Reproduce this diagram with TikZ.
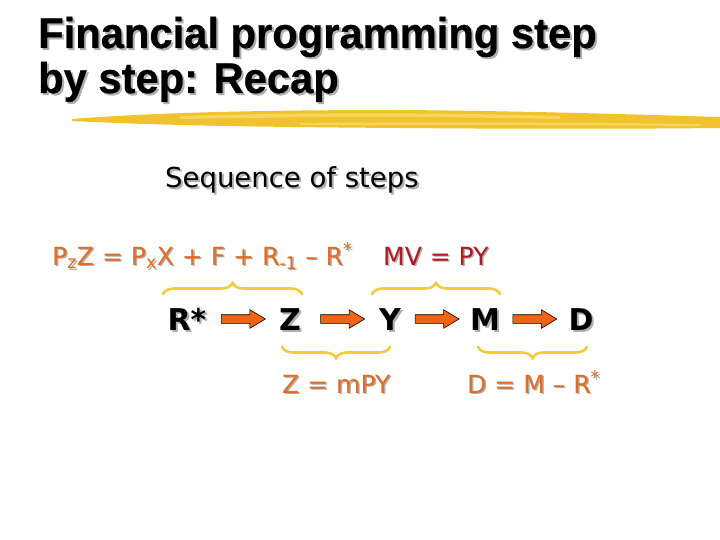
\documentclass[tikz,border=0pt]{standalone}
\usepackage{fontspec}
\setmainfont{DejaVu Sans}
\newfontfamily\titlefont[FakeStretch=0.97,BoldFont={Liberation Sans Bold},BoldFeatures={FakeBold=0.6}]{Liberation Sans}
\usetikzlibrary{calc,shapes.arrows,decorations.pathreplacing}
\definecolor{eqorange}{RGB}{226,108,36}
\definecolor{eqred}{RGB}{178,24,30}
\definecolor{arrorange}{RGB}{240,100,18}
\definecolor{braceyellow}{RGB}{240,204,64}
\definecolor{brush}{RGB}{240,194,46}
\definecolor{brushlight}{RGB}{248,214,92}
\definecolor{shadowgray}{RGB}{175,175,175}
\tikzset{
  titletext/.style={font=\titlefont\bfseries\fontsize{43}{43}\selectfont, anchor=base west, inner sep=0pt},
  subtitle/.style={font=\fontsize{27.5}{27.5}\selectfont, anchor=base west, inner sep=0pt},
  eqtext/.style={font=\fontsize{25}{25}\selectfont, anchor=base west, inner sep=0pt, text=eqorange},
  rowtext/.style={font=\bfseries\fontsize{30}{30}\selectfont, anchor=base, inner sep=0pt, text height=22pt, text depth=0pt},
  shadowed/.style={text=shadowgray},
  flowarrow/.style={single arrow, draw=black, line width=0.6pt, fill=arrorange,
    minimum height=44pt, minimum width=18pt, inner sep=4pt,
    single arrow head extend=5pt, single arrow tip angle=62},
  bracedeco/.style={draw=braceyellow, line width=2.6pt, line cap=round,
    decorate, decoration={brace, amplitude=11pt, raise=0pt}},
}
\begin{document}
\begin{tikzpicture}[x=1pt,y=-1pt]
\useasboundingbox (0,0) rectangle (720,540);
\fill[white] (0,0) rectangle (720,540);

% title with shadow
\node[titletext,shadowed] at (40,50) {Financial programming step};
\node[titletext] (t1) at (38,48) {Financial programming step};
\node[titletext,shadowed] at (40,95) {by step: Recap};
\node[titletext] (t2) at (38,93) {by step: Recap};

% brush stroke
\fill[brush] (72,119) .. controls (150,113) and (250,110) .. (400,110)
  .. controls (520,111) and (620,114) .. (720,117)
  -- (720,128) .. controls (620,129) and (520,129) .. (400,128)
  .. controls (250,127) and (150,125) .. (72,121) -- cycle;
\fill[brushlight] (180,116) .. controls (280,113) and (420,112) .. (560,116)
  -- (560,119) .. controls (420,116) and (280,117) .. (180,119) -- cycle;
\fill[brushlight] (300,123) .. controls (420,122) and (560,122) .. (700,124)
  -- (700,126) .. controls (560,125) and (420,125) .. (300,125) -- cycle;

% subtitle
\node[subtitle,shadowed] at (167,190) {Sequence of steps};
\node[subtitle] (seq) at (165,188) {Sequence of steps};

% equations top
\node[eqtext,shadowed] at (53.5,266.5) {P\textsubscript{z}Z = P\textsubscript{x}X + F + R\textsubscript{-1} – R\textsuperscript{*}};
\node[eqtext] (eq1) at (52,265) {P\textsubscript{z}Z = P\textsubscript{x}X + F + R\textsubscript{-1} – R\textsuperscript{*}};
\node[eqtext,shadowed] at (384.5,266.5) {MV = PY};
\node[eqtext,text=eqred] (eq2) at (383,265) {MV = PY};

% row
\foreach \n/\x/\t in {rs/187/R*, z/290/Z, y/390/Y, m/485/M, d/581/D} {
  \node[rowtext,shadowed] at (\x+2,332) {\t};
  \node[rowtext] (\n) at (\x,330) {\t};
}
\node[flowarrow] (a1) at ($(rs.east)!0.5!(z.west)+(-3,0)$) {};
\node[flowarrow] (a2) at ($(z.east)!0.5!(y.west)+(-1,0)$) {};
\node[flowarrow] (a3) at ($(y.east)!0.5!(m.west)+(-2,0)$) {};
\node[flowarrow] (a4) at ($(m.east)!0.5!(d.west)+(-3,0)$) {};

% braces
\draw[bracedeco] (163,294) -- (302,294);
\draw[bracedeco] (372,294) -- (500,294);
\draw[bracedeco] (390,347) -- (282,347);
\draw[bracedeco] (587,347) -- (478,347);

% bottom formulas
\node[eqtext,shadowed] at (283.5,394.5) {Z = mPY};
\node[eqtext] (eq3) at (282,393) {Z = mPY};
\node[eqtext,shadowed] at (468.5,394.5) {D = M – R\textsuperscript{*}};
\node[eqtext] (eq4) at (467,393) {D = M – R\textsuperscript{*}};
\end{tikzpicture}
\end{document}
